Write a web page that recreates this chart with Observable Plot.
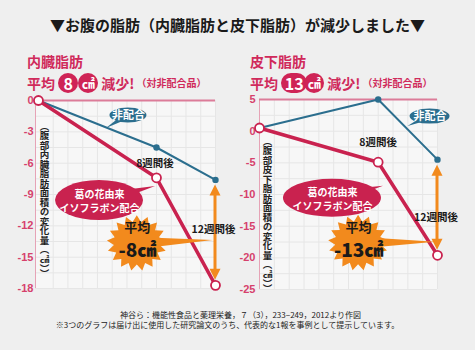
<!DOCTYPE html>
<html><head><meta charset="utf-8">
<script src="https://cdn.jsdelivr.net/npm/d3@7"></script>
<script src="https://cdn.jsdelivr.net/npm/@observablehq/plot@0.6"></script>
<style>
body{margin:0;background:#efefef;font-family:"Noto Sans CJK JP",sans-serif;}
#root{position:relative;width:475px;height:350px;overflow:hidden;background:#efefef;}
.abs{position:absolute;white-space:nowrap;}
#title{left:0;top:15px;width:475px;text-align:center;font-size:15px;font-weight:bold;color:#1a1a1a;line-height:20px;}
.h1{font-size:14px;font-weight:bold;color:#d02a5b;line-height:18px;}
.h2{font-size:14px;font-weight:bold;color:#d02a5b;line-height:18px;display:flex;align-items:center;}
.pill{display:inline-block;background:#cf2456;color:#fff;border-radius:10px;height:20px;line-height:20px;text-align:center;font-size:16px;font-weight:bold;}
.small{font-size:10px;color:#d02a5b;margin-left:2px;}
#cap{left:0;top:310px;width:475px;text-align:center;font-size:8px;color:#222;line-height:9.5px;}
#left,#right{height:210px;}
#left svg,#right svg{display:block;overflow:visible;max-width:none !important;}
</style></head>
<body><div id="root">
<div id="title" class="abs">▼お腹の脂肪（内臓脂肪と皮下脂肪）が減少しました▼</div>
<div class="abs h1" style="left:27px;top:52px;">内臓脂肪</div>
<div class="abs h2" style="left:27px;top:73px;">平均&nbsp;<span class="pill" style="width:20px;">8</span><span class="pill" style="width:20px;font-size:13px;margin-left:0px;">㎠</span>&nbsp;減少!<span class="small">（対非配合品）</span></div>
<div class="abs h1" style="left:250px;top:52px;">皮下脂肪</div>
<div class="abs h2" style="left:250px;top:73px;">平均&nbsp;<span class="pill" style="width:26px;">13</span><span class="pill" style="width:20px;font-size:13px;margin-left:-3px;">㎠</span>&nbsp;減少!<span class="small">（対非配合品）</span></div>
<div id="left" class="abs" style="left:0;top:90px;width:240px;"></div>
<div id="right" class="abs" style="left:237px;top:90px;width:238px;"></div>
<div id="cap" class="abs"><span style="position:relative;left:3px;">神谷ら：機能性食品と薬理栄養，７（3），233−249，2012より作図</span><br><span style="position:relative;left:-10px;">※3つのグラフは届け出に使用した研究論文のうち、代表的な1報を事例として提示しています。</span></div>
</div>
<script>
const weeks = [0, 8, 12];
const visceralCombo = [0, -7.4, -17.7];
const visceralControl = [0, -4.5, -7.6];
const subcutCombo = [0.5, -4.9, -19.6];
const subcutControl = [0.5, 5.0, -4.5];
const visceralTicks = [0, -3, -6, -9, -12, -15, -18];
const subcutTicks = [5, 0, -5, -10, -15, -20, -25];
const visceralLabel = "（腹部内臓脂肪面積の変化量（㎠））";
const subcutLabel = "（腹部皮下脂肪面積の変化量（㎠））";
const comboName = "葛の花由来\nイソフラボン配合";
const controlName = "非配合";

const CRIMSON = "#c9224f", TEAL = "#2b6e8e", ORANGE = "#f28a1d", PINK = "#d6416c";
const FONT = "'Noto Sans CJK JP', sans-serif";

function rows(vals) { return weeks.map((w, i) => ({week: w, value: vals[i]})); }

function wedge(g, cx, cy, tx, ty, w, color) {
  const a = Math.atan2(ty - cy, tx - cx), px = -Math.sin(a) * w / 2, py = Math.cos(a) * w / 2;
  g.append("path").attr("d", `M${cx + px},${cy + py}L${tx},${ty}L${cx - px},${cy - py}Z`).attr("fill", color);
}

function annotations(a) {
  return (index, scales) => {
    const X = scales.x, Y = scales.y;
    const g = d3.create("svg:g");
    let cx = X(a.teal.x), cy = Y(a.teal.y);
    wedge(g, cx, cy, cx + a.teal.tail[0], cy + a.teal.tail[1], 7, TEAL);
    g.append("ellipse").attr("cx", cx).attr("cy", cy).attr("rx", a.teal.rx).attr("ry", a.teal.ry).attr("fill", TEAL);
    cx = X(a.red.x); cy = Y(a.red.y);
    wedge(g, cx, cy, cx + a.red.tail[0], cy + a.red.tail[1], 14, CRIMSON);
    g.append("ellipse").attr("cx", cx).attr("cy", cy).attr("rx", a.red.rx).attr("ry", a.red.ry).attr("fill", CRIMSON);
    const ax = X(12), y1 = Y(a.arrow[0]), y2 = Y(a.arrow[1]);
    g.append("line").attr("x1", ax).attr("x2", ax).attr("y1", y1 + 8).attr("y2", y2 - 8).attr("stroke", ORANGE).attr("stroke-width", 3);
    g.append("path").attr("d", `M${ax},${y1}L${ax - 5.5},${y1 + 11}L${ax + 5.5},${y1 + 11}Z`).attr("fill", ORANGE);
    g.append("path").attr("d", `M${ax},${y2}L${ax - 5.5},${y2 - 11}L${ax + 5.5},${y2 - 11}Z`).attr("fill", ORANGE);
    cx = X(a.burst.x); cy = Y(a.burst.y);
    wedge(g, cx, cy, cx + a.burst.tail[0], cy + a.burst.tail[1], 12, ORANGE);
    const n = 17, pts = [];
    for (let i = 0; i < 2 * n; i++) {
      const r = i % 2 ? 23 : 30, t = Math.PI * i / n - Math.PI / 2;
      pts.push([cx + r * Math.cos(t), cy + r * Math.sin(t) * 0.93]);
    }
    g.append("path").attr("d", "M" + pts.map(p => p.join(",")).join("L") + "Z").attr("fill", ORANGE);
    return g.node();
  };
}

function chart(cfg) {
  const combo = rows(cfg.combo), control = rows(cfg.control);
  const [ymin, ymax] = [d3.min(cfg.ticks), d3.max(cfg.ticks)];
  const a = cfg.anno;
  const burstText = "平均\n" + a.burst.text;
  const txt = (d, o) => Plot.text([d], {x: "x", y: "y", text: "t", fontFamily: FONT, fontWeight: "bold", ...o});
  const svg = Plot.plot({
    width: cfg.width, height: 210,
    marginLeft: cfg.ml, marginRight: cfg.mr, marginTop: cfg.mt, marginBottom: cfg.mb,
    x: {domain: cfg.xDomain, axis: null},
    y: {domain: [ymin, ymax], ticks: cfg.ticks, tickSize: 0, tickPadding: cfg.tp, tickFormat: d => String(d), label: null},
    style: {background: "transparent", color: PINK, fontSize: "11px", fontWeight: "bold", fontFamily: "'Liberation Sans', Arial, sans-serif", overflow: "visible", maxWidth: "none"},
    marks: [
      Plot.frame({fill: "#f7f7f7", stroke: null}),
      Plot.ruleX(d3.range(1, 13), {stroke: "#e6e6e6", strokeWidth: 1}),
      Plot.ruleY(d3.range(ymin, ymax, cfg.gridStep), {stroke: "#e6e6e6", strokeWidth: 1}),
      Plot.ruleX([cfg.xDomain[0]], {stroke: "#e6a3b6", strokeWidth: 1}),
      Plot.ruleY([ymax], {stroke: "#dc7c99", strokeWidth: 2}),
      Plot.text([cfg.label], {frameAnchor: "left", textAnchor: "middle", dx: cfg.labelDx, dy: cfg.labelDy, fill: "#222", fontSize: 9.5, fontWeight: "bold", fontFamily: FONT}),
      Plot.line(control, {x: "week", y: "value", stroke: TEAL, strokeWidth: 2}),
      Plot.line(combo, {x: "week", y: "value", stroke: CRIMSON, strokeWidth: 3.5}),
      Plot.dot(control.slice(1), {x: "week", y: "value", r: 3.2, fill: TEAL}),
      Plot.dot(combo, {x: "week", y: "value", r: 4.5, fill: "white", stroke: CRIMSON, strokeWidth: 1.8}),
      annotations(a),
      txt({x: a.teal.x, y: a.teal.y, t: controlName}, {fill: "white", fontSize: 11}),
      txt({x: a.red.x, y: a.red.y, t: comboName}, {fill: "white", fontSize: 10, lineHeight: 1.45}),
      txt({x: a.w8[0], y: a.w8[1], t: "8週間後"}, {fill: "#1a1a1a", fontSize: 10.5}),
      txt({x: a.w12[0], y: a.w12[1], t: "12週間後"}, {fill: "#1a1a1a", fontSize: 10.5}),
      txt({x: a.burst.x, y: a.burst.y, t: burstText}, {fill: "#1a1a1a", fontSize: 13, lineHeight: 1.4})
    ]
  });
  svg.querySelectorAll("text").forEach(t => {
    if (t.textContent === cfg.label) { t.setAttribute("writing-mode", "vertical-rl"); t.style.writingMode = "vertical-rl"; }
    if (t.textContent === burstText.replace("\n", "")) {
      const sp = t.querySelectorAll("tspan");
      if (sp.length === 2) {
        sp[0].setAttribute("dy", "-8");
        sp[1].setAttribute("dy", "25");
        sp[1].style.fontSize = "19px";
        sp[1].style.fontWeight = "900";
      }
    }
  });
  return svg;
}

document.getElementById("left").append(chart({
  combo: visceralCombo, control: visceralControl, ticks: visceralTicks, gridStep: 1.5,
  label: visceralLabel, width: 240, ml: 35, mr: 25, mt: 10, mb: 12, tp: 2, xDomain: [-0.2, 12],
  labelDx: 9, labelDy: 2,
  anno: {
    teal: {x: 6.1, y: -1.44, rx: 18.5, ry: 7.5, tail: [-22, 13]},
    red: {x: 4.14, y: -9.58, rx: 44, ry: 20, tail: [56, -14]},
    arrow: [-8.1, -17.2],
    burst: {x: 6.7, y: -13.7, tail: [76, -3], text: "-8㎠"},
    w8: [7.9, -6.0], w12: [11.86, -12.36]
  }
}));
document.getElementById("right").append(chart({
  combo: subcutCombo, control: subcutControl, ticks: subcutTicks, gridStep: 2.5,
  label: subcutLabel, width: 238, ml: 22, mr: 38, mt: 9, mb: 11, tp: 4, xDomain: [0, 12],
  labelDx: 8, labelDy: 17,
  anno: {
    teal: {x: 11.5, y: 2.3, rx: 20, ry: 7.5, tail: [-22, 10]},
    red: {x: 4.92, y: -10.6, rx: 49, ry: 19, tail: [51, -12]},
    arrow: [-5.4, -18.8],
    burst: {x: 6.68, y: -17.7, tail: [77, -1], text: "-13㎠"},
    w8: [8.0, -1.8], w12: [11.9, -13.6]
  }
}));
</script>
</body></html>
